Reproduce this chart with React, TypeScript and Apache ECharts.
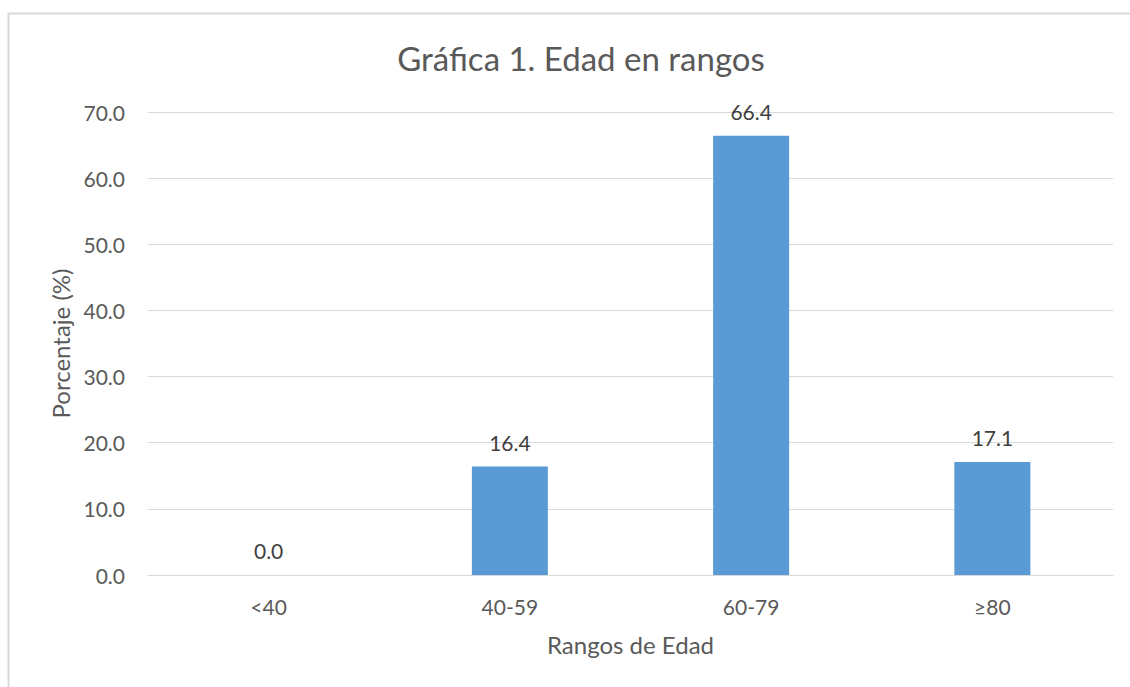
import React, { useEffect, useRef } from "react";
import * as echarts from "echarts";

const categories = ["<40", "40-59", "60-79", "≥80"];
const values = [0.0, 16.4, 66.4, 17.1];
const yTicks = { min: 0, max: 70, interval: 10 };
const titleText = "Gráfica 1. Edad en rangos";
const xName = "Rangos de Edad";
const yName = "Porcentaje (%)";

const FONT = "Lato, 'Open Sans', sans-serif";
const TXT = "#595959";

export default function App() {
  const ref = useRef<HTMLDivElement>(null);
  useEffect(() => {
    const chart = echarts.init(ref.current!, null, { renderer: "svg" });
    chart.setOption({
      animation: false,
      backgroundColor: "#ffffff",
      textStyle: { fontFamily: FONT },
      title: {
        text: titleText,
        left: 576,
        textAlign: "center",
        top: 36,
        textStyle: { fontFamily: FONT, fontSize: 33, fontWeight: "normal", color: TXT },
      },
      graphic: [
        {
          type: "rect",
          shape: { x: 8.5, y: 13.5, width: 1200, height: 800 },
          style: { fill: "none", stroke: "#d9d9d9", lineWidth: 2 },
          silent: true,
        },
      ],
      grid: { left: 148, right: 17, top: 112, bottom: 112 },
      xAxis: {
        type: "category",
        data: categories,
        axisLine: { lineStyle: { color: "#d9d9d9", width: 1 } },
        axisTick: { show: false },
        axisLabel: { color: TXT, fontSize: 21, fontFamily: FONT, margin: 21 },
        name: xName,
        nameLocation: "middle",
        nameGap: 57,
        nameTextStyle: { color: TXT, fontSize: 24, fontFamily: FONT },
      },
      yAxis: {
        type: "value",
        min: yTicks.min,
        max: yTicks.max,
        interval: yTicks.interval,
        axisLine: { show: false },
        axisTick: { show: false },
        splitLine: { lineStyle: { color: "#d9d9d9", width: 1 } },
        axisLabel: {
          color: TXT,
          fontSize: 21,
          fontFamily: FONT,
          margin: 23,
          formatter: (v: number) => v.toFixed(1),
        },
        name: yName,
        nameLocation: "middle",
        nameGap: 75,
        nameRotate: 90,
        nameTextStyle: { color: TXT, fontSize: 24, fontFamily: FONT },
      },
      series: [
        {
          type: "bar",
          data: values,
          barWidth: "31.5%",
          itemStyle: { color: "#5b9bd5" },
          label: {
            show: true,
            position: "top",
            distance: 14,
            color: "#404040",
            fontSize: 21,
            fontFamily: FONT,
            formatter: (p: any) => Number(p.value).toFixed(1),
          },
        },
      ],
    });
    return () => chart.dispose();
  }, []);
  return (
    <div
      ref={ref}
      style={{ position: "fixed", left: 0, top: 0, width: 1130, height: 687 }}
    />
  );
}
